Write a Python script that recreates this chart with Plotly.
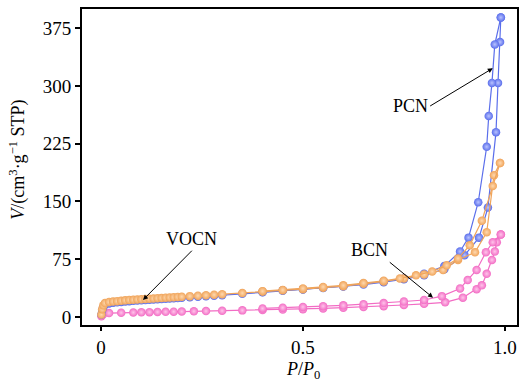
import plotly.graph_objects as go

# ---- data ----
pcn_ads_p = [0.001, 0.003, 0.006, 0.01, 0.02, 0.03, 0.04, 0.05, 0.06, 0.07, 0.08, 0.09, 0.10, 0.11, 0.12, 0.13,
             0.14, 0.15, 0.16, 0.17, 0.18, 0.19, 0.20, 0.22, 0.24, 0.26, 0.28, 0.30, 0.35, 0.40, 0.45, 0.50,
             0.55, 0.60, 0.65, 0.70, 0.75, 0.80, 0.85, 0.90, 0.936, 0.958, 0.978, 0.983, 0.988, 0.990]
pcn_ads_v = [3, 9, 13, 16, 17.5, 18.5, 19, 19.5, 20, 20.5, 21, 21.3, 21.6, 22, 22.3, 22.6,
             23, 23.3, 23.6, 24, 24.3, 24.6, 25, 25.6, 26.2, 26.8, 27.4, 28, 30, 32, 34, 35.5,
             37.5, 39.5, 42, 45, 49, 54, 62, 80, 103, 142, 240, 304, 357, 389]
pcn_des_p = [0.990, 0.975, 0.968, 0.960, 0.955, 0.934, 0.910, 0.889, 0.85, 0.80, 0.75, 0.70, 0.65, 0.60, 0.55, 0.50, 0.45, 0.40]
pcn_des_v = [389, 354, 304, 261, 221, 149, 103, 85, 66, 56, 50, 46, 43, 40, 38, 36, 34.5, 32.5]

vocn_ads_p = [0.001, 0.003, 0.006, 0.01, 0.02, 0.03, 0.04, 0.05, 0.06, 0.07, 0.08, 0.09, 0.10, 0.11, 0.12, 0.13,
              0.14, 0.15, 0.16, 0.17, 0.18, 0.19, 0.20, 0.22, 0.24, 0.26, 0.28, 0.30, 0.35, 0.40, 0.45, 0.50,
              0.55, 0.60, 0.65, 0.70, 0.75, 0.80, 0.847, 0.884, 0.926, 0.955, 0.973, 0.988]
vocn_ads_v = [3, 10, 15, 18, 19.5, 20, 20.5, 21, 21.5, 22, 22.3, 22.6, 23, 23.3, 23.6, 24,
              24.3, 24.6, 25, 25.3, 25.6, 26, 26.3, 27, 27.6, 28.2, 28.8, 29.5, 31, 33, 34.5, 36,
              38, 40, 43, 46, 50, 55, 61, 74, 84, 110, 184, 200]
vocn_des_p = [0.988, 0.970, 0.943, 0.913, 0.884, 0.856, 0.82, 0.78, 0.74, 0.70, 0.65, 0.60, 0.55, 0.50, 0.45, 0.40]
vocn_des_v = [200, 170, 125, 93, 76, 67, 59, 54, 50, 47, 44, 41, 39, 37, 35, 33.5]

bcn_ads_p = [0.001, 0.005, 0.02, 0.05, 0.08, 0.10, 0.12, 0.14, 0.16, 0.18, 0.20, 0.23, 0.26, 0.30, 0.35, 0.40,
             0.45, 0.50, 0.55, 0.60, 0.65, 0.70, 0.75, 0.80, 0.852, 0.896, 0.930, 0.943, 0.955, 0.968, 0.975, 0.980, 0.990]
bcn_ads_v = [1, 3, 5, 5.5, 5.8, 6, 6.2, 6.4, 6.6, 6.8, 7, 7.3, 7.6, 8, 8.5, 9,
             9.5, 10, 11, 12, 13, 14, 15.5, 17, 19, 25, 36, 41, 56, 74, 85, 97, 107]
bcn_des_p = [0.990, 0.970, 0.953, 0.930, 0.908, 0.889, 0.844, 0.80, 0.75, 0.70, 0.65, 0.60, 0.55, 0.50, 0.45, 0.40]
bcn_des_v = [107, 97, 84, 61, 48, 37, 27, 22, 20, 18, 16.5, 15, 14, 13, 12, 11]

x_ticks = [0, 0.5, 1.0]
x_tick_labels = ["0", "0.5", "1.0"]
y_ticks = [0, 75, 150, 225, 300, 375]

BLUE = "#5a6eeb"
ORANGE = "#f0a45a"
PINK = "#f26cc4"
BLUE_HI = "#b8c2ff"
ORANGE_HI = "#ffd9b0"
PINK_HI = "#ffc4ea"
FONT = "Liberation Serif"

fig = go.Figure()


def add_branch(px, vy, color, hi):
    fig.add_trace(go.Scatter(
        x=px, y=vy, mode="lines+markers",
        line=dict(color=color, width=1.2),
        marker=dict(size=8.5, color=color, line=dict(width=0),
                    gradient=dict(type="radial", color=hi)),
        showlegend=False, hoverinfo="skip"))


add_branch(bcn_ads_p, bcn_ads_v, PINK, PINK_HI)
add_branch(bcn_des_p, bcn_des_v, PINK, PINK_HI)
add_branch(pcn_ads_p, pcn_ads_v, BLUE, BLUE_HI)
add_branch(pcn_des_p, pcn_des_v, BLUE, BLUE_HI)
add_branch(vocn_ads_p, vocn_ads_v, ORANGE, ORANGE_HI)
add_branch(vocn_des_p, vocn_des_v, ORANGE, ORANGE_HI)

ann_font = dict(family=FONT, size=18, color="black")
fig.add_annotation(x=0.104, y=22, ax=0.225, ay=86, axref="x", ayref="y",
                   text="VOCN", showarrow=True, arrowhead=2, arrowsize=1, arrowwidth=1,
                   arrowcolor="black", font=ann_font, yanchor="bottom", standoff=0)
fig.add_annotation(x=0.822, y=25, ax=0.715, ay=71, axref="x", ayref="y",
                   text="BCN", showarrow=True, arrowhead=2, arrowsize=1, arrowwidth=1,
                   arrowcolor="black", font=ann_font, xanchor="right", yanchor="bottom")
fig.add_annotation(x=0.970, y=323, ax=0.815, ay=274, axref="x", ayref="y",
                   text="PCN", showarrow=True, arrowhead=2, arrowsize=1, arrowwidth=1,
                   arrowcolor="black", font=ann_font, xanchor="right")

# axis titles
fig.add_annotation(xref="paper", yref="paper", x=0.508, y=-0.102, showarrow=False,
                   text="<i>P</i>/<i>P</i><sub>0</sub>", font=dict(family=FONT, size=18, color="black"),
                   xanchor="center", yanchor="top")
fig.add_annotation(xref="paper", yref="paper", x=-0.148, y=0.522, showarrow=False, textangle=-90,
                   text="<i>V</i>/(cm<sup>3</sup>·g<sup>−1</sup> STP)", font=dict(family=FONT, size=18, color="black"),
                   xanchor="center", yanchor="middle")

fig.update_layout(
    width=524, height=382,
    margin=dict(l=82, r=7, t=9, b=57),
    plot_bgcolor="white", paper_bgcolor="white",
    font=dict(family=FONT, size=19, color="black"),
    xaxis=dict(range=[-0.047, 1.03], tickvals=x_ticks, ticktext=x_tick_labels,
               showline=True, mirror=True, linecolor="black", linewidth=1.8,
               ticks="outside", ticklen=4, tickwidth=1.5, tickcolor="black",
               showgrid=False, zeroline=False, automargin=False),
    yaxis=dict(range=[-10.5, 400], tickvals=y_ticks,
               showline=True, mirror=True, linecolor="black", linewidth=1.8,
               ticks="outside", ticklen=5, tickwidth=1.5, tickcolor="black",
               showgrid=False, zeroline=False, automargin=False),
)

fig.write_html("out.html", config={"displayModeBar": False},
               post_script="document.body.style.margin='0';")
